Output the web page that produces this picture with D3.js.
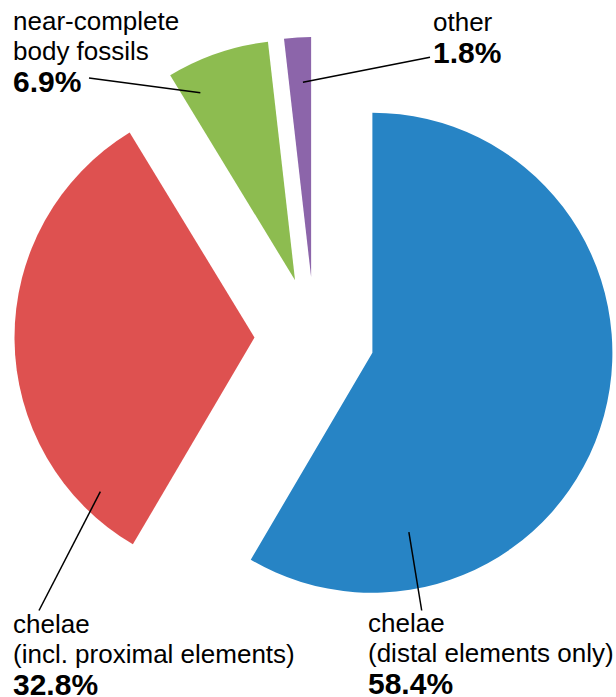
<!DOCTYPE html>
<html>
<head>
<meta charset="utf-8">
<script src="https://cdn.jsdelivr.net/npm/d3@7"></script>
<style>
  html, body { margin: 0; padding: 0; background: #fff; }
  svg { display: block; }
  text { font-family: "Liberation Sans", Arial, sans-serif; fill: #000; }
</style>
</head>
<body>
<svg id="chart" width="616" height="697"></svg>
<script>
// ---- data ----
const categories = ["chelae (distal elements only)", "chelae (incl. proximal elements)", "near-complete body fossils", "other"];
const labelLines = [["chelae", "(distal elements only)"], ["chelae", "(incl. proximal elements)"], ["near-complete", "body fossils"], ["other"]];
const values = [58.4, 32.8, 6.9, 1.8];
const valueLabels = ["58.4%", "32.8%", "6.9%", "1.8%"];
const colors = ["#2784c5", "#de5150", "#8dbc50", "#8c65aa"];

// ---- layout ----
const W = 616, H = 697;
const center = [314.5, 337];
const radius = 240;
const explode = 60;
const labelLayout = [
  { x: 368, y: 632, anchorDeg: 168.5, anchorR: 183, end: [421.7, 610.5] },
  { x: 13,  y: 633, anchorDeg: 225,   anchorR: 218, end: [39, 610.5] },
  { x: 13,  y: 30,  anchorDeg: 333.2, anchorR: 210, end: [89, 78] },
  { x: 433, y: 31,  anchorDeg: 357.6, anchorR: 195, end: [430, 57.3] }
];

const svg = d3.select("#chart");
const pie = d3.pie().sort(null).value(d => d)(values);
const arc = d3.arc().innerRadius(0).outerRadius(radius);

const g = svg.append("g").attr("transform", `translate(${center[0]},${center[1]})`);

const rad = a => a * Math.PI / 180;
pie.forEach((p, i) => {
  const mid = (p.startAngle + p.endAngle) / 2;
  const dx = Math.sin(mid) * explode, dy = -Math.cos(mid) * explode;
  p.cx = dx; p.cy = dy;
  g.append("path")
    .attr("d", arc(p))
    .attr("transform", `translate(${dx},${dy})`)
    .attr("fill", colors[i]);
});

// leader lines
pie.forEach((p, i) => {
  const L = labelLayout[i];
  const a = rad(L.anchorDeg);
  const x1 = center[0] + p.cx + Math.sin(a) * L.anchorR;
  const y1 = center[1] + p.cy - Math.cos(a) * L.anchorR;
  svg.append("line")
    .attr("x1", x1).attr("y1", y1)
    .attr("x2", L.end[0]).attr("y2", L.end[1])
    .attr("stroke", "#000").attr("stroke-width", 1.5);
});

// labels
labelLines.forEach((lines, i) => {
  const L = labelLayout[i];
  const t = svg.append("text").attr("x", L.x).attr("y", L.y);
  lines.forEach((ln, j) => {
    t.append("tspan").attr("x", L.x).attr("y", L.y + j * 30)
      .attr("font-size", 26).text(ln);
  });
  svg.append("text")
    .attr("x", L.x).attr("y", L.y + (lines.length - 1) * 30 + 32)
    .attr("font-size", 30).attr("font-weight", "bold")
    .text(valueLabels[i]);
});
</script>
</body>
</html>
